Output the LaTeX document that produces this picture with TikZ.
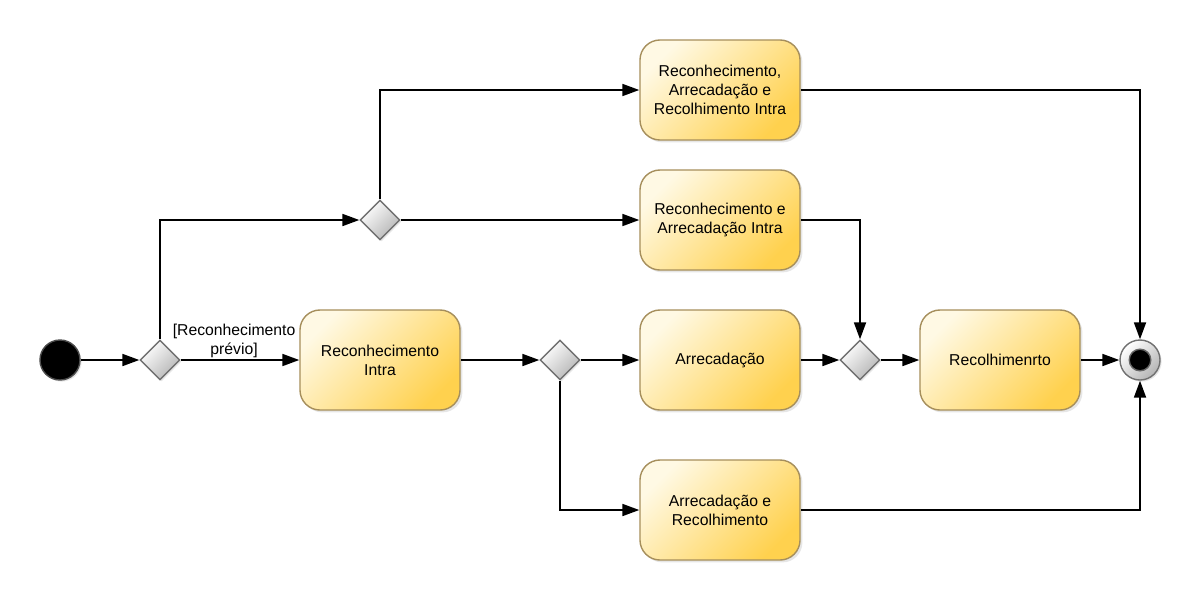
\documentclass[tikz,border=0pt]{standalone}
\usepackage{fontspec}
\setmainfont{Liberation Sans}
\usetikzlibrary{arrows.meta, shapes.geometric, shadows, positioning}
\definecolor{boxlight}{RGB}{255, 249, 228}
\definecolor{boxdark}{RGB}{255, 209, 78}
\definecolor{boxborder}{RGB}{166, 143, 92}
\definecolor{diamondgray}{RGB}{180, 180, 180}
\definecolor{diamondborder}{RGB}{112, 112, 112}

\tikzset{
	action/.style={rectangle, rounded corners=0.5cm, draw=boxborder, line width=1pt,
		top color=boxlight, bottom color=boxdark, shading angle=45,
		minimum width=4cm, minimum height=2.5cm, align=center,
		font=\fontsize{11.2}{13.5}\selectfont,
		drop shadow={opacity=0.2, shadow xshift=0.06cm, shadow yshift=-0.06cm}},
	decision/.style={diamond, draw=diamondborder, line width=1pt, inner sep=0pt,
		minimum width=1cm, minimum height=1cm,
		top color=white, bottom color=diamondgray, shading angle=45,
		drop shadow={opacity=0.2, shadow xshift=0.04cm, shadow yshift=-0.04cm}},
	flow/.style={-{Triangle[length=12pt,width=8.5pt]}, line width=1.3pt},
}

\begin{document}
\begin{tikzpicture}[x=0.025cm, y=-0.025cm]
	\useasboundingbox (0,0) rectangle (1200,600);

	% start and end
	\node[circle, fill=black, draw=black!70, line width=1pt, minimum size=1cm,
		drop shadow={opacity=0.2, shadow xshift=0.04cm, shadow yshift=-0.04cm}] (start) at (60,360) {};
	\node[circle, draw=diamondborder, line width=1pt, minimum size=1cm,
		top color=white, bottom color=diamondgray, shading angle=45,
		drop shadow={opacity=0.2, shadow xshift=0.04cm, shadow yshift=-0.04cm}] (final) at (1140,360) {};
	\fill[black, draw=black!60, line width=1pt] (final) circle (0.27cm);

	% decisions
	\node[decision] (d1) at (160,360) {};
	\node[decision] (dtop) at (380,220) {};
	\node[decision] (d2) at (560,360) {};
	\node[decision] (dmerge) at (860,360) {};

	% actions
	\node[action] (rai) at (720,90) {Reconhecimento,\\Arrecadação e\\Recolhimento Intra};
	\node[action] (rei) at (720,220) {Reconhecimento e\\Arrecadação Intra};
	\node[action] (ri) at (380,360) {Reconhecimento\\Intra};
	\node[action] (arr) at (720,360) {Arrecadação};
	\node[action] (rec) at (1000,360) {Recolhimenrto};
	\node[action] (arrrec) at (720,510) {Arrecadação e\\Recolhimento};

	% connectors
	\draw[flow] (start) -- (d1);
	\draw[flow] (d1) -- node[pos=0.45, above, inner sep=1pt, align=center,
		font=\fontsize{11.2}{13.5}\selectfont] {[Reconhecimento\\prévio]} (ri);
	\draw[flow] (d1.north) |- (dtop.west);
	\draw[flow] (dtop.north) |- (rai.west);
	\draw[flow] (dtop) -- (rei);
	\draw[flow] (rai.east) -| (final.north);
	\draw[flow] (rei.east) -| (dmerge.north);
	\draw[flow] (ri) -- (d2);
	\draw[flow] (d2) -- (arr);
	\draw[flow] (d2.south) |- (arrrec.west);
	\draw[flow] (arr) -- (dmerge);
	\draw[flow] (dmerge) -- (rec);
	\draw[flow] (rec) -- (final);
	\draw[flow] (arrrec.east) -| (final.south);
\end{tikzpicture}
\end{document}
